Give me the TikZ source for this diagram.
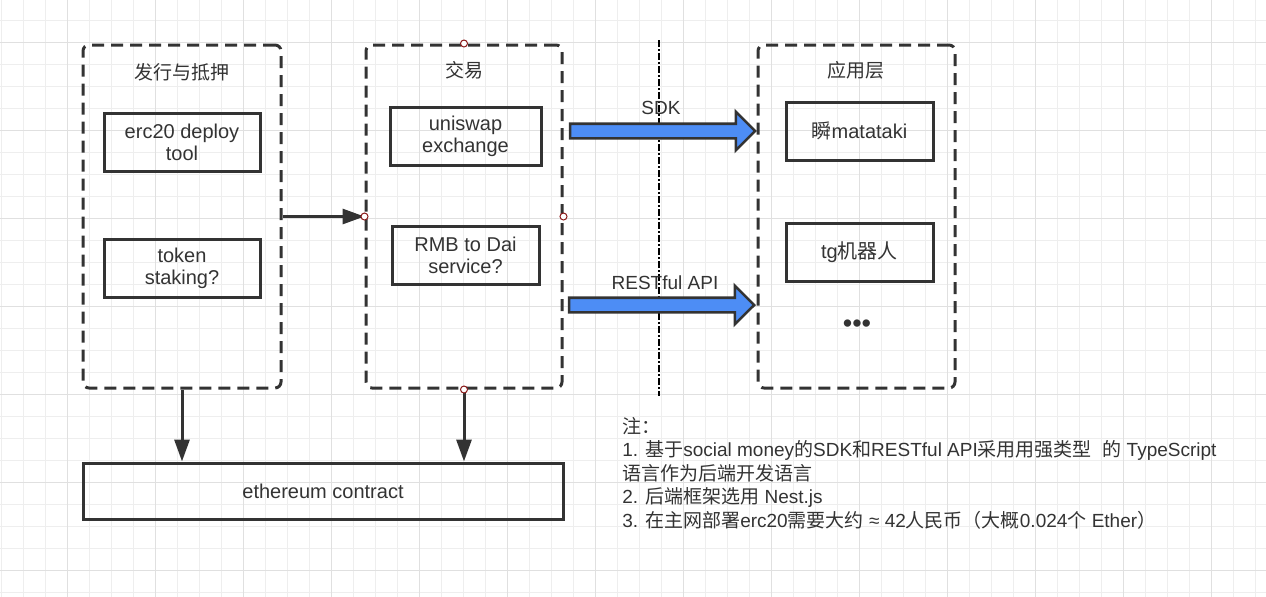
\documentclass[tikz,border=0pt]{standalone}
\usepackage{fontspec}
\setmainfont{Liberation Sans}
\newfontfamily\cjk{Noto Sans CJK SC}
\usepackage{tikz}
\usetikzlibrary{arrows.meta}
\usetikzlibrary{shapes.arrows}
\usetikzlibrary{positioning}
\usepackage{xcolor}
\definecolor{inkgray}{HTML}{333333}
\definecolor{arrowblue}{HTML}{4D8DF5}
\definecolor{portred}{HTML}{8B1A1A}
\definecolor{minorgrid}{HTML}{EEEEEE}
\definecolor{majorgrid}{HTML}{E0E0E0}

\begin{document}
\begin{tikzpicture}[x=0.5pt,y=-0.5pt]
				    \tikzstyle{minorline}=[draw=minorgrid,line width=0.5pt]
				    \tikzstyle{majorline}=[draw=majorgrid,line width=0.5pt]
				    \tikzstyle{group}=[draw=inkgray,line width=1.5pt,rounded corners=3pt,dash pattern=on 6pt off 3.5pt,minimum height=171.5pt]
				    \tikzstyle{item}=[draw=inkgray,line width=1.5pt,minimum height=29pt,align=center,text=inkgray,font=\fontsize{10pt}{11pt}\selectfont]
				    \tikzstyle{title}=[text=inkgray,font=\fontsize{9.5pt}{11pt}\selectfont]
				    \tikzstyle{port}=[draw=portred,fill=white,circle,line width=0.5pt,inner sep=0pt,minimum size=3.5pt]
				    \tikzstyle{link}=[draw=inkgray,line width=1.5pt,-{Triangle[length=11pt,width=7.5pt]}]
				    \tikzstyle{bigarrow}=[single arrow,draw=inkgray,fill=arrowblue,line width=1.3pt,inner xsep=0pt,inner ysep=3pt,minimum width=18pt,minimum height=92.5pt,single arrow head extend=6pt,single arrow tip angle=90]
				    \tikzstyle{divider}=[draw=black,line width=0.8pt,dash pattern=on 3.5pt off 1.2pt on 0.6pt off 1.2pt]
				    \tikzstyle{note}=[anchor=base west,inner sep=0pt,text=inkgray,font=\fontsize{9.5pt}{12pt}\selectfont]
				    \useasboundingbox (0,0) rectangle (1266,596);
				    % background grid
				    \begin{scope}
				    \clip (0,0) rectangle (1266,596);
				    \draw[minorline,step=11pt,shift={(1,20)}] (-44,-44) grid (1320,640);
				    \draw[majorline,step=44pt,shift={(67,42)}] (-176,-176) grid (1400,700);
				    \end{scope}
				    % three groups
				    \node[group,minimum width=99pt] (issue) at (182,216.5) {};
				    \node[group,minimum width=98pt] (trade) at (464,216.5) {};
				    \node[group,minimum width=98.5pt] (app) at (856.5,216.5) {};
				    \node[title] (issuetitle) at (182,72) {\cjk 发行与抵押};
				    \node[title] (tradetitle) at (464,70) {\cjk 交易};
				    \node[title] (apptitle) at (856,70) {\cjk 应用层};
				    \node[item,minimum width=78pt] (deploy) at (182,142) {erc20 deploy\\tool};
				    \node[item,minimum width=78pt] (staking) at (182,268) {token\\staking?};
				    \node[item,minimum width=75.5pt] (uniswap) at (465.5,136) {uniswap\\exchange};
				    \node[item,minimum width=73.5pt] (rmb) at (465.5,255) {RMB to Dai\\service?};
				    \node[item,minimum width=73.5pt] (matataki) at (859.5,131) {{\cjk 瞬}matataki};
				    \node[item,minimum width=73.5pt] (tgbot) at (859.5,252) {tg{\cjk 机器人}};
				    \node[title,font=\fontsize{13.5pt}{14pt}\selectfont] (more) at (857,326) {•••};
				    \node[item,minimum width=240pt,minimum height=28pt] (eth) at (323,491) {ethereum contract};
				    % links
				    \draw[link] (issue.east) -- (trade.west);
				    \draw[link] (issue.south) -- (issue.south |- eth.north);
				    \draw[link] (trade.south) -- (trade.south |- eth.north);
				    \foreach \side in {north,south,east,west}
				        \node[port] (port-\side) at (trade.\side) {};
				    % divider
				    \coordinate (divtop) at (659,40);
				    \coordinate (divbot) at (659,396);
				    \draw[divider] (divtop) -- (divbot);
				    % interfaces
				    \node[bigarrow] (sdk) at (659,131) {};
				    \node[bigarrow] (rest) at (658,305) {};
				    \node[title] (sdklabel) at (661,108) {SDK};
				    \node[title] (restlabel) at (665,283) {RESTful API};
				    % notes
				    \node[note] (note0) at (622,433) {\cjk 注：};
				    \node[note] (note1) at (622,456.5) {1. {\cjk 基于}social money{\cjk 的}SDK{\cjk 和}RESTful API{\cjk 采用用强类型}\ \ {\cjk 的} TypeScript};
				    \node[note] (note2) at (622,480) {\cjk 语言作为后端开发语言};
				    \node[note] (note3) at (622,503.5) {2. {\cjk 后端框架选用} Nest.js};
				    \node[note] (note4) at (622,527) {3. {\cjk 在主网部署}erc20{\cjk 需要大约} ≈ 42{\cjk 人民币（大概}0.024{\cjk 个} Ether{\cjk ）}};
				\end{tikzpicture}
\end{document}
